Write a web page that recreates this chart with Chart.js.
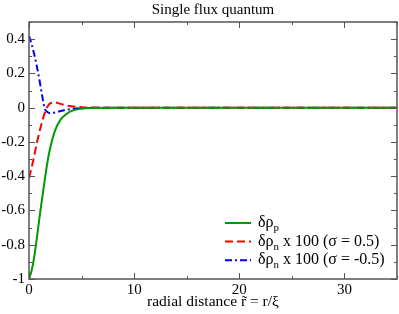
<!DOCTYPE html>
<html lang="en">
<head>
  <meta charset="UTF-8">
  <title>Single flux quantum</title>
  <script src="https://cdn.jsdelivr.net/npm/chart.js"></script>
  <style>
    body { margin: 0; background: #fff; }
    canvas { display: block; }
  </style>
</head>
<body>
  <canvas id="fluxChart" width="399" height="314"></canvas>

  <script>
    // radial distance r/xi
    const radius = [0, 0.25, 0.5, 0.75, 1, 1.25, 1.5, 1.75, 2, 2.5, 3, 3.5, 4, 5, 6, 8, 35];
    // delta rho_p
    const protonDelta = [-1, -0.95, -0.87, -0.76, -0.64, -0.53, -0.42, -0.32, -0.24, -0.13, -0.07, -0.04, -0.02, -0.006, -0.002, 0, 0];
    // delta rho_n x 100, sigma = 0.5
    const neutronPlus = [-0.41, -0.35, -0.28, -0.205, -0.14, -0.08, -0.03, 0.005, 0.025, 0.03, 0.022, 0.014, 0.008, 0.003, 0.001, 0, 0];
    // delta rho_n x 100, sigma = -0.5
    const neutronMinus = [0.42, 0.37, 0.31, 0.24, 0.16, 0.07, -0.005, -0.025, -0.032, -0.028, -0.02, -0.013, -0.008, -0.003, -0.001, 0, 0];

    const xTicks = [0, 10, 20, 30];
    const yTicks = [-1, -0.8, -0.6, -0.4, -0.2, 0, 0.2, 0.4];
    const xMinor = [5, 15, 25, 35];
    const yMinor = [-0.9, -0.7, -0.5, -0.3, -0.1, 0.1, 0.3, 0.5];

    const serif = '"Liberation Serif", "Times New Roman", serif';
    const axisColor = '#555';

    function points(ys) {
      return radius.map((r, i) => ({ x: r, y: ys[i] }));
    }

    // ticks pointing inward on all four sides + frame + title + legend
    const decorations = {
      id: 'decorations',
      afterDraw(chart) {
        const ctx = chart.ctx;
        const a = chart.chartArea;
        const xs = chart.scales.x, ys = chart.scales.y;
        ctx.save();
        ctx.strokeStyle = axisColor;
        ctx.lineWidth = 1.5;
        ctx.strokeRect(a.left, a.top, a.right - a.left, a.bottom - a.top);

        ctx.lineWidth = 1;
        function xt(v, len) {
          const px = Math.round(xs.getPixelForValue(v)) + 0.5;
          ctx.beginPath();
          ctx.moveTo(px, a.bottom); ctx.lineTo(px, a.bottom - len);
          ctx.moveTo(px, a.top); ctx.lineTo(px, a.top + len);
          ctx.stroke();
        }
        function yt(v, len) {
          const py = Math.round(ys.getPixelForValue(v)) + 0.5;
          ctx.beginPath();
          ctx.moveTo(a.left, py); ctx.lineTo(a.left + len, py);
          ctx.moveTo(a.right, py); ctx.lineTo(a.right - len, py);
          ctx.stroke();
        }
        xTicks.forEach(v => xt(v, 6));
        xMinor.forEach(v => xt(v, 3));
        yTicks.forEach(v => yt(v, 6));
        yMinor.forEach(v => yt(v, 3));

        // title
        ctx.fillStyle = '#000';
        ctx.font = '15px ' + serif;
        ctx.textAlign = 'center';
        ctx.textBaseline = 'alphabetic';
        ctx.fillText('Single flux quantum', (a.left + a.right) / 2, 14);

        // legend
        const rows = [
          { color: '#009900', dash: [], sub: 'p', rest: '' },
          { color: '#ff0000', dash: [8, 4], sub: 'n', rest: ' x 100 (\u03c3 = 0.5)' },
          { color: '#0000ff', dash: [7, 3, 2, 3], sub: 'n', rest: ' x 100 (\u03c3 = -0.5)' }
        ];
        rows.forEach((row, i) => {
          const y = 223 + i * 18.6;
          ctx.strokeStyle = row.color;
          ctx.lineWidth = 2;
          ctx.setLineDash(row.dash);
          ctx.beginPath();
          ctx.moveTo(225, y); ctx.lineTo(251, y);
          ctx.stroke();
          ctx.setLineDash([]);
          ctx.textAlign = 'left';
          ctx.font = '16px ' + serif;
          let x = 258;
          ctx.fillText('\u03b4\u03c1', x, y + 4);
          x += ctx.measureText('\u03b4\u03c1').width;
          ctx.font = '11px ' + serif;
          ctx.fillText(row.sub, x, y + 8);
          x += ctx.measureText(row.sub).width;
          ctx.font = '16px ' + serif;
          ctx.fillText(row.rest, x, y + 4);
        });
        ctx.restore();
      }
    };

    new Chart(document.getElementById('fluxChart').getContext('2d'), {
      type: 'line',
      data: {
        datasets: [
          {
            label: '\u03b4\u03c1p',
            data: points(protonDelta),
            borderColor: '#009900',
            borderWidth: 2,
            cubicInterpolationMode: 'monotone'
          },
          {
            label: '\u03b4\u03c1n x 100 (\u03c3 = 0.5)',
            data: points(neutronPlus),
            borderColor: '#ff0000',
            borderWidth: 2,
            borderDash: [8, 4],
            cubicInterpolationMode: 'monotone'
          },
          {
            label: '\u03b4\u03c1n x 100 (\u03c3 = -0.5)',
            data: points(neutronMinus),
            borderColor: '#0000ff',
            borderWidth: 2,
            borderDash: [7, 3, 2, 3],
            cubicInterpolationMode: 'monotone'
          }
        ]
      },
      options: {
        responsive: false,
        animation: false,
        elements: { point: { radius: 0 } },
        layout: { padding: { top: 22, right: 2, left: 0, bottom: 0 } },
        plugins: {
          legend: { display: false },
          title: { display: false },
          tooltip: { enabled: false }
        },
        scales: {
          x: {
            type: 'linear',
            min: 0,
            max: 35,
            afterBuildTicks(scale) { scale.ticks = xTicks.map(v => ({ value: v })); },
            afterFit(scale) { scale.height = 35; },
            grid: { display: false, drawTicks: false },
            border: { display: false },
            ticks: {
              color: '#000',
              padding: 2,
              maxRotation: 0,
              font: { family: serif, size: 15 }
            },
            title: {
              display: true,
              text: 'radial distance r\u0303 = r/\u03be',
              color: '#000',
              padding: { top: 0, bottom: 3 },
              font: { family: serif, size: 15.5 }
            }
          },
          y: {
            min: -1,
            max: 0.5,
            afterBuildTicks(scale) { scale.ticks = yTicks.map(v => ({ value: v })); },
            afterFit(scale) { scale.width = 29; },
            grid: { display: false, drawTicks: false },
            border: { display: false },
            ticks: {
              color: '#000',
              padding: 4,
              font: { family: serif, size: 15 },
              callback: v => String(Math.round(v * 10) / 10)
            }
          }
        }
      },
      plugins: [decorations]
    });
  </script>
</body>
</html>
